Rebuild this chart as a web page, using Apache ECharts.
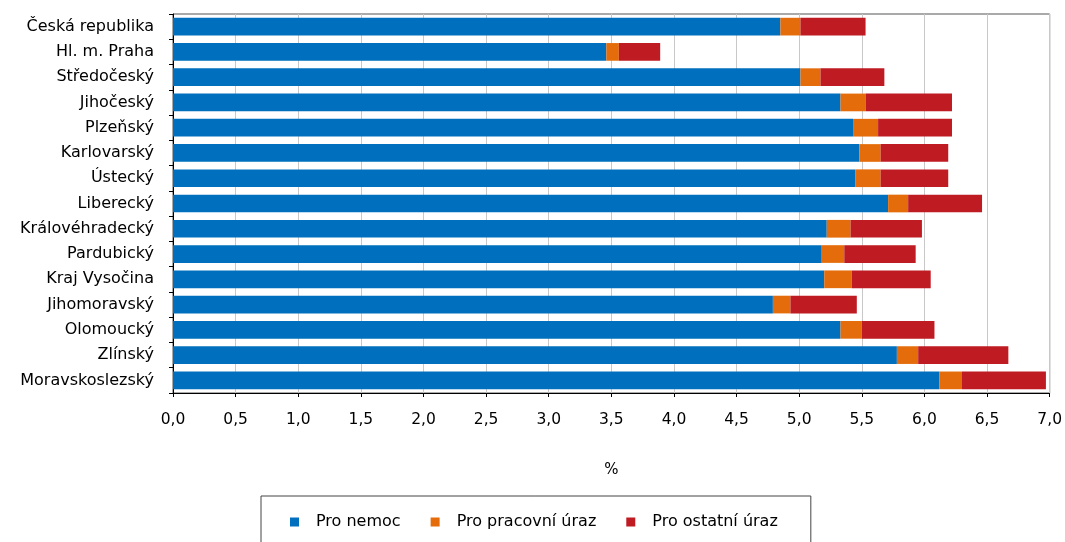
<!DOCTYPE html>
<html>
<head>
<meta charset="utf-8">
<script src="https://cdn.jsdelivr.net/npm/echarts@6/dist/echarts.min.js"></script>
<style>html,body{margin:0;padding:0;background:#fff;}#c{width:1065px;height:542px;}</style>
</head>
<body>
<div id="c"></div>
<script>
const categories = ["Česká republika","Hl. m. Praha","Středočeský","Jihočeský","Plzeňský","Karlovarský","Ústecký","Liberecký","Královéhradecký","Pardubický","Kraj Vysočina","Jihomoravský","Olomoucký","Zlínský","Moravskoslezský"];
const proNemoc = [4.85,3.46,5.01,5.33,5.43,5.48,5.45,5.71,5.22,5.18,5.20,4.79,5.33,5.78,6.12];
const proPracovniUraz = [0.16,0.10,0.16,0.20,0.20,0.17,0.20,0.16,0.19,0.18,0.22,0.14,0.17,0.17,0.18];
const proOstatniUraz = [0.52,0.33,0.51,0.69,0.59,0.54,0.54,0.59,0.57,0.57,0.63,0.53,0.58,0.72,0.67];
const seriesNames = ["Pro nemoc","Pro pracovní úraz","Pro ostatní úraz"];
const colors = ["#0070BE","#E46C0A","#BE1B22"];

const font = "'DejaVu Sans', Verdana, sans-serif";
const chart = echarts.init(document.getElementById('c'));
const mk = (name, data, color) => ({
  name, type: 'bar', stack: 'total', data, barCategoryGap: '30%',
  itemStyle: { color }, emphasis: { disabled: true }
});
chart.setOption({
  animation: false,
  textStyle: { fontFamily: font, color: '#000' },
  grid: { left: 173, right: 15, top: 14, bottom: 149, show: true, borderColor: '#555', borderWidth: 1 },
  xAxis: {
    type: 'value', min: 0, max: 7, interval: 0.5,
    name: '%', nameLocation: 'middle', nameGap: 70,
    nameTextStyle: { fontFamily: font, fontSize: 15, color: '#000' },
    axisLine: { show: true, lineStyle: { color: '#000', width: 1 } },
    axisTick: { show: true, length: 4, lineStyle: { color: '#000' } },
    axisLabel: { margin: 19, fontSize: 15.5, color: '#000', fontFamily: font,
      formatter: v => v.toFixed(1).replace('.', ',') },
    splitLine: { show: true, lineStyle: { color: '#c8c8c8', width: 1 } }
  },
  yAxis: {
    type: 'category', data: categories, inverse: true,
    axisLine: { show: true, lineStyle: { color: '#000', width: 1 } },
    axisTick: { show: true, length: 4, lineStyle: { color: '#000' } },
    axisLabel: { margin: 19, fontSize: 16, color: '#000', fontFamily: font },
    splitLine: { show: false }
  },
  legend: {
    data: seriesNames, left: 261, top: 496,
    orient: 'horizontal',
    padding: [18, 33, 40, 29],
    itemGap: 30, itemWidth: 9, itemHeight: 9, icon: 'rect',
    borderColor: '#444', borderWidth: 1,
    textStyle: { fontFamily: font, fontSize: 16, color: '#000', padding: [0, 0, 0, 12] }
  },
  series: [
    mk(seriesNames[0], proNemoc, colors[0]),
    mk(seriesNames[1], proPracovniUraz, colors[1]),
    mk(seriesNames[2], proOstatniUraz, colors[2])
  ]
});
</script>
</body>
</html>
